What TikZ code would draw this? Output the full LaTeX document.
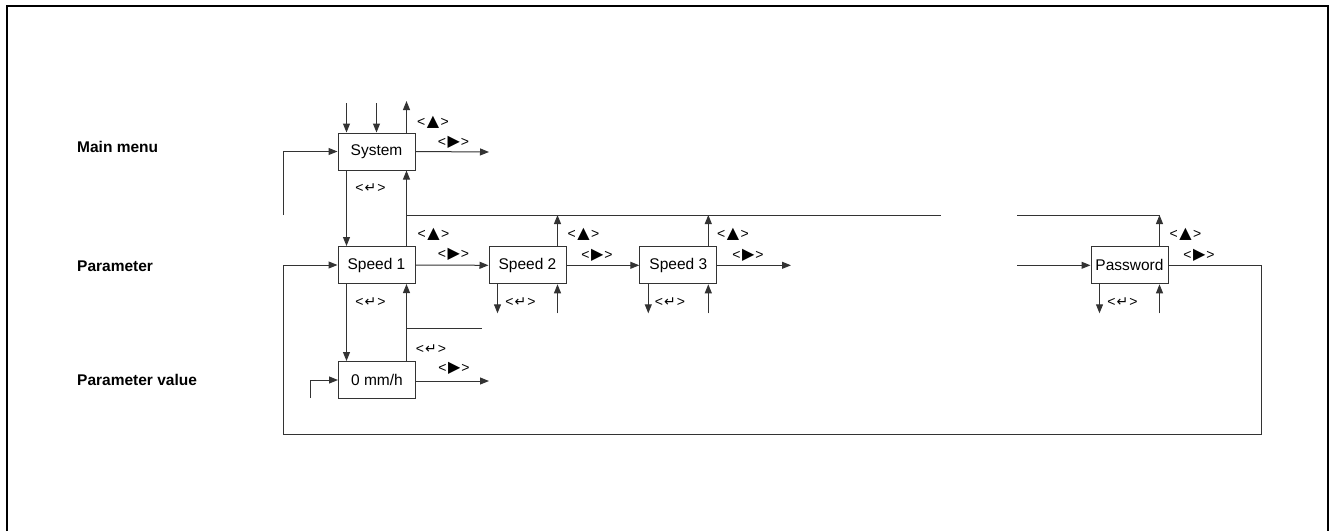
\documentclass[tikz,border=0pt]{standalone}
\usepackage{fontspec}
\setmainfont{Liberation Sans}
\newfontfamily\symfont{DejaVu Sans}
\usetikzlibrary{positioning,arrows.meta}
\definecolor{lineg}{HTML}{333333}
\newcommand{\keyup}{<\kern1.5pt{\symfont\fontsize{16}{16}\selectfont ▲}\kern1.5pt>}
\newcommand{\keyright}{<\kern1.5pt{\symfont\fontsize{16}{16}\selectfont ▶}\kern1pt>}
\newcommand{\keyenter}{<\kern1pt{\symfont\fontsize{14}{14}\selectfont ↵}\kern1pt>}

\begin{document}
\begin{tikzpicture}[x=1pt, y=-1pt,
  box/.style={draw=lineg, line width=1pt, minimum width=77pt, minimum height=37pt,
    inner sep=0pt, font=\fontsize{15.5}{18}\selectfont},
  conn/.style={draw=lineg, line width=1pt},
  arr/.style={conn, -{Triangle[length=9pt,width=7pt]}},
  keylab/.style={inner sep=0pt, font=\fontsize{14}{16}\selectfont},
  rowlab/.style={anchor=west, inner sep=0pt, font=\bfseries\fontsize{15.5}{18}\selectfont}]
  \useasboundingbox (0,0) rectangle (1334,531);
  % outer frame
  \draw[line width=2.4pt] (7,531) -- (7,6) -- (1328,6) -- (1328,531);

  % row titles
  \node[rowlab] (rmain) at (77,147) {Main menu};
  \node[rowlab] (rpar) at (77,266) {Parameter};
  \node[rowlab] (rval) at (77,380) {Parameter value};

  % menu boxes
  \node[box] (sys) at (376.5,151.5) {System};
  \node[box] (sp1) at (376.5,265) {Speed 1};
  \node[box] (sp2) at (527.5,265.3) {Speed 2};
  \node[box] (sp3) at (678.3,265.3) {Speed 3};
  \node[box] (pwd) at (1129.5,265.3) {Password};
  \node[box] (val) at (377,380) {0 mm/h};

  % free ends
  \coordinate (in1) at (346.5,103);
  \coordinate (in2) at (376.5,103);
  \coordinate (sysup) at (406.5,101);
  \coordinate (sysout) at (489,152);
  \coordinate (sysin) at (283,215);
  \coordinate (bus) at (406.5,215);
  \coordinate (busend) at (941,215);
  \coordinate (bus2) at (1017,215);
  \coordinate (pwdin) at (1017,265.3);
  \coordinate (sp3out) at (791,265.3);
  \coordinate (loopr) at (1261,434);
  \coordinate (loopl) at (283,434);
  \coordinate (valbus) at (482,328);
  \coordinate (valout) at (489,381);
  \coordinate (valin) at (310,398);

  % main menu
  \draw[arr] (in1) -- (in1 |- sys.north);
  \draw[arr] (in2) -- (in2 |- sys.north);
  \draw[arr] (sysup |- sys.north) -- (sysup);
  \draw[arr] (sys.east) -- (sysout);
  \draw[arr] (sysin) |- (sys.west);
  \draw[arr] (in1 |- sys.south) -- (in1 |- sp1.north);
  \draw[arr] (bus |- sp1.north) -- (bus |- sys.south);
  \draw[conn] (bus) -- (busend);
  \draw[conn] (bus2) -- ([xshift=30pt]pwd.north |- bus2);

  % parameter row
  \draw[arr] (sp1.east) -- (sp2.west);
  \draw[arr] (sp2.east) -- (sp3.west);
  \draw[arr] (sp3.east) -- (sp3out);
  \draw[arr] (pwdin) -- (pwd.west);
  \draw[arr] (pwd.east) -| (loopr) -- (loopl) |- (sp1.west);
  \foreach \b in {sp2,sp3,pwd} {
    \coordinate (\b-out) at ([shift={(-30,29)}]\b.south);
    \coordinate (\b-back) at ([shift={(30,29)}]\b.south);
    \draw[arr] (\b.south -| \b-out) -- (\b-out);
    \draw[arr] (\b-back) -- (\b.south -| \b-back);
    \draw[arr] ([xshift=30pt]\b.north) -- ([xshift=30pt]\b.north |- bus);
  }

  % parameter value
  \draw[arr] (in1 |- sp1.south) -- (in1 |- val.north);
  \draw[arr] (bus |- val.north) -- (bus |- sp1.south);
  \draw[conn] (bus |- valbus) -- (valbus);
  \draw[arr] (val.east |- valout) -- (valout);
  \draw[arr] (valin) |- (val.west);

  % key labels
  \node[keylab] (l1) at (433,122) {\keyup};
  \node[keylab] (l2) at (453.5,142) {\keyright};
  \node[keylab] (l3) at (370.5,188) {\keyenter};
  \node[keylab] (l4) at (433.5,234) {\keyup};
  \node[keylab] (l5) at (453.5,254.5) {\keyright};
  \node[keylab] (l6) at (370.5,302) {\keyenter};
  \node[keylab] (l7) at (431,349.5) {\keyenter};
  \node[keylab] (l8) at (454,368) {\keyright};
  \node[keylab] (l9) at (583.5,234) {\keyup};
  \node[keylab] (l10) at (597,255) {\keyright};
  \node[keylab] (l11) at (520.5,302) {\keyenter};
  \node[keylab] (l12) at (733,234) {\keyup};
  \node[keylab] (l13) at (748,255) {\keyright};
  \node[keylab] (l14) at (670,302) {\keyenter};
  \node[keylab] (l15) at (1185.5,234.5) {\keyup};
  \node[keylab] (l16) at (1199,255) {\keyright};
  \node[keylab] (l17) at (1122.5,302.5) {\keyenter};
\end{tikzpicture}
\end{document}
